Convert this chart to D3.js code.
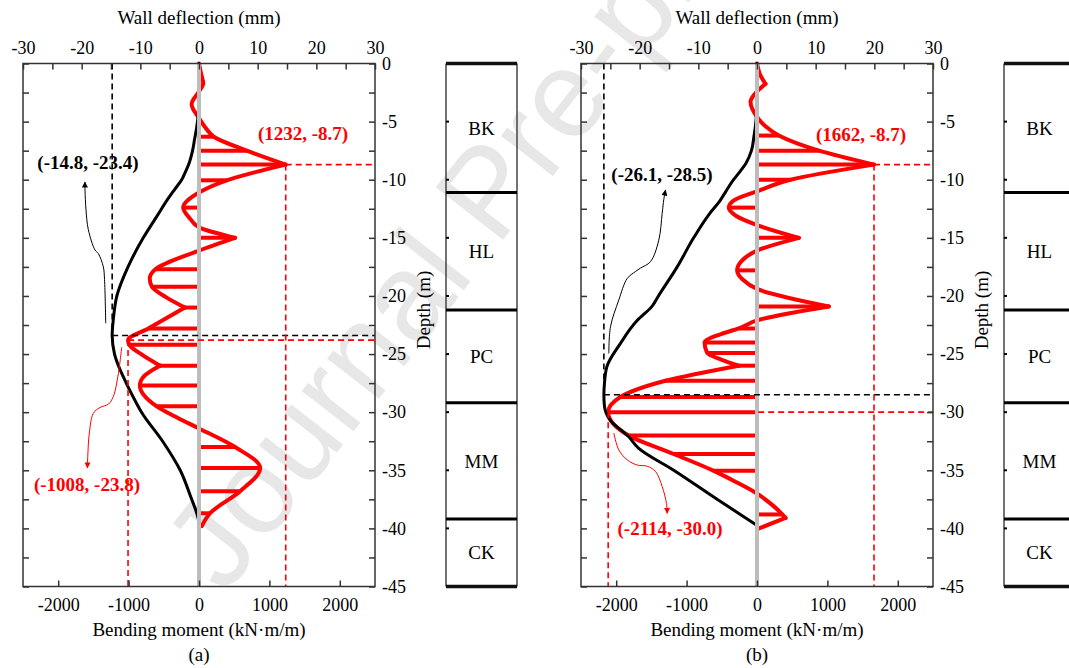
<!DOCTYPE html>
<html>
<head>
<meta charset="utf-8">
<script src="https://cdn.jsdelivr.net/npm/d3@7"></script>
<style>
  body { margin: 0; background: #fff; }
  svg { display: block; font-family: "Liberation Serif", "Times New Roman", serif; }
</style>
</head>
<body>
<svg id="chart" width="1069" height="668"></svg>
<script>
// ---------- axes ----------
const deflectionTicks = [-30, -25, -20, -15, -10, -5, 0, 5, 10, 15, 20, 25, 30];
const momentTicks = [-2000, -1000, 0, 1000, 2000];
const depthTicks = [0, -2.5, -5, -7.5, -10, -12.5, -15, -17.5, -20, -22.5, -25, -27.5,
                    -30, -32.5, -35, -37.5, -40, -42.5, -45];

// ---------- soil profile ----------
const layerNames = ["BK", "HL", "PC", "MM", "CK"];
const layerTops = [0, -11.1, -21.2, -29.2, -39.2];
const layerBottoms = [-11.1, -21.2, -29.2, -39.2, -45];

// ---------- case (a) ----------
const deflADepth = [0, -3, -4.5, -5.5, -6.5, -7.5, -8.6, -9.3, -10, -10.8, -11.8, -13, -15, -17.5, -20,
                    -22, -23.4, -25, -27.5, -29, -30, -32.5, -35, -37.5, -38.5, -39.2];
const deflAValue = [0, 0, -0.15, -0.4, -0.75, -1.1, -1.7, -2.3, -2.95, -4.1, -5.5, -7.0, -9.5, -12.1, -14.0,
                    -14.6, -14.8, -14.4, -12.4, -10.9, -9.8, -6.2, -3.2, -1.25, -0.5, -0.1];

const momentADepth = [0, -0.9, -1.7, -2.4, -3.5, -4.7, -5.5, -6.3, -7.5, -8.7, -10.05, -11.1, -12.4,
                      -13.4, -14.1, -15.0, -16.1, -17.7, -18.5, -19.2, -20.1, -21.0, -22.8, -23.8,
                      -24.2, -25.1, -26.0, -26.9, -27.7, -29.5, -30.5, -31.4, -33.0, -34.8, -36.8,
                      -38.7, -39.8];
const momentAValue = [0, 30, 60, 0, -105, 0, 90, 210, 680, 1232, 395, 0, -225,
                      -120, 0, 512, 0, -620, -700, -670, -470, -200, -720, -1008,
                      -990, -800, -555, -780, -840, -600, -300, 0, 512, 868, 584,
                      157, 40];
const momentACusps = [-8.7, -15.0, -21.0, -26.0];
const hatchADepth = [-6.3, -7.5, -8.7, -10.05, -12.4, -15.0, -17.7, -19.2, -21.0, -22.8, -24.2,
                     -26.0, -27.7, -29.5, -33.0, -34.8, -36.8, -38.7];

const maxDeflA = [-14.8, -23.4];     // [mm, depth]
const maxMomentA = [1232, -8.7];     // [kN·m/m, depth]
const minMomentA = [-1008, -23.8];

// leader curves, in [moment, depth] units
const leaderDeflA = [[-1325, -22.35], [-1342, -18.6], [-1359, -17.5], [-1430, -16.35], [-1477, -16.05],
                     [-1572, -14.3], [-1605, -12.6], [-1619, -10.9], [-1620, -10.2]];
const leaderMomentA = [[-1098, -24.4], [-1146, -26.7], [-1217, -28.65], [-1285, -29.3], [-1406, -29.6],
                       [-1501, -30.1], [-1558, -31.8], [-1580, -33.8], [-1585, -34.8]];

// ---------- case (b) ----------
const deflBDepth = [0, -3, -4.5, -5.5, -6.2, -7.5, -8.6, -9.3, -10, -11, -11.8, -13, -15, -17.5,
                    -20, -20.9, -22.1, -24.1, -26.1, -27.5, -28.5, -29.5, -30.7, -32.1, -33.1,
                    -35, -37.5, -39.7];
const deflBValue = [0, 0, -0.1, -0.3, -0.5, -0.95, -1.9, -2.9, -4.0, -5.3, -6.3, -8.2, -10.8, -13.6,
                    -16.8, -17.9, -20.4, -23.3, -25.6, -26.0, -26.1, -26.0, -25.0, -21.9, -20.2,
                    -14.2, -6.8, -0.1];

const momentBDepth = [0, -0.9, -1.75, -2.4, -3.3, -4.6, -5.4, -6.2, -7.5, -8.7, -10.0, -11.0, -11.8,
                      -12.4, -13.1, -13.9, -15.0, -16.1, -17.0, -17.8, -18.6, -19.4, -20.9, -22.1,
                      -22.8, -23.3, -24.0, -24.9, -25.5, -26.0, -27.3, -28.7, -30.0, -32.0, -33.6,
                      -35.05, -36.0, -37.0, -38.0, -38.8, -39.1, -40.0];
const momentBValue = [0, 40, 120, 0, -92, 0, 120, 310, 880, 1662, 477, 0, -334,
                      -401, -300, 0, 595, 0, -220, -282, -200, 0, 1021, 0,
                      -260, -520, -745, -708, -500, -260, -1300, -1941, -2114, -1823, -1183,
                      -614, -300, 0, 220, 360, 405, 30];
const momentBCusps = [-1.75, -8.7, -15.0, -20.9, -26.0, -39.1];
const hatchBDepth = [-6.2, -7.5, -8.7, -10.0, -12.4, -15.0, -17.8, -20.9, -22.8, -24.0, -24.9,
                     -26.0, -27.3, -28.7, -30.0, -32.0, -33.6, -35.05, -38.8];

const maxDeflB = [-26.1, -28.5];
const maxMomentB = [1662, -8.7];
const minMomentB = [-2114, -30.0];

const leaderDeflB = [[-2105, -24.95], [-2081, -22.65], [-1963, -20.35], [-1844, -18.5], [-1726, -17.9],
                     [-1655, -17.6], [-1513, -17.05], [-1395, -15.2], [-1347, -12.9], [-1324, -11.7],
                     [-1300, -10.9]];
const leaderMomentB = [[-2034, -31.8], [-1963, -33.25], [-1844, -34.1], [-1702, -34.55], [-1560, -34.65],
                       [-1442, -35.1], [-1347, -36.4], [-1286, -37.85], [-1276, -38.7]];

// ---------- layout ----------
const svg = d3.select("#chart");
const PW = 352, TOP = 63.5, BOTTOM = 586.5;
const SOIL_W = 71;
const RED = "#ff0000";
const AXIS = "#333";

// watermark
svg.append("text")
  .attr("transform", "translate(520,218) rotate(-52)")
  .attr("text-anchor", "middle")
  .attr("font-family", "Liberation Sans, Arial, sans-serif")
  .attr("font-size", 124)
  .attr("fill", "#e7e7e7")
  .text("Journal Pre-proof");

const defs = svg.append("defs");
[["arrowBlack", "#000"], ["arrowRed", RED]].forEach(([id, c]) => {
  defs.append("marker")
    .attr("id", id).attr("viewBox", "0 0 10 10")
    .attr("refX", 9).attr("refY", 5)
    .attr("markerWidth", 7).attr("markerHeight", 6)
    .attr("markerUnits", "userSpaceOnUse")
    .attr("orient", "auto")
    .append("path").attr("d", "M0,0L10,5L0,10Z").attr("fill", c);
});

function zip(depths, values) { return depths.map((d, i) => [values[i], d]); }

function splitAtCusps(points, cusps) {
  const segs = [];
  let cur = [];
  points.forEach(p => {
    cur.push(p);
    if (cusps.includes(p[1]) && cur.length > 1) { segs.push(cur); cur = [p]; }
  });
  if (cur.length > 1) segs.push(cur);
  return segs;
}

function drawPanel(cfg) {
  const left = cfg.left, right = left + PW;
  const x = d3.scaleLinear().domain([-2500, 2500]).range([left, right]);
  const xd = d3.scaleLinear().domain([-30, 30]).range([left, right]);
  const y = d3.scaleLinear().domain([0, -45]).range([TOP, BOTTOM]);
  const g = svg.append("g");

  // hatching from the wall line to the moment curve
  const momentPts = zip(cfg.momentDepth, cfg.momentValue);
  g.append("g").selectAll("line").data(cfg.hatchDepth).join("line")
    .attr("x1", x(0))
    .attr("x2", d => x(cfg.momentValue[cfg.momentDepth.indexOf(d)]))
    .attr("y1", d => y(d)).attr("y2", d => y(d))
    .attr("stroke", RED).attr("stroke-width", 4);

  // bending moment
  const lineM = d3.line().x(p => x(p[0])).y(p => y(p[1])).curve(d3.curveMonotoneY);
  g.append("g").selectAll("path").data(splitAtCusps(momentPts, cfg.cusps)).join("path")
    .attr("d", lineM).attr("fill", "none").attr("stroke", RED)
    .attr("stroke-width", 4).attr("stroke-linejoin", "round").attr("stroke-linecap", "round");

  // wall deflection
  const lineD = d3.line().x(p => xd(p[0])).y(p => y(p[1])).curve(d3.curveMonotoneY);
  g.append("path").datum(zip(cfg.deflDepth, cfg.deflValue))
    .attr("d", lineD).attr("fill", "none").attr("stroke", "#000")
    .attr("stroke-width", 3).attr("stroke-linecap", "round");

  // wall axis
  g.append("line").attr("x1", x(0)).attr("x2", x(0)).attr("y1", TOP).attr("y2", BOTTOM)
    .attr("stroke", "#bdbdbd").attr("stroke-width", 4);

  // reference lines at the extremes
  const dash = (x1, y1, x2, y2, c) => g.append("line")
    .attr("x1", x1).attr("y1", y1).attr("x2", x2).attr("y2", y2)
    .attr("stroke", c).attr("stroke-width", 1.6).attr("stroke-dasharray", "6,4");
  const [dMax, dDepth] = cfg.maxDefl;
  dash(xd(dMax), TOP, xd(dMax), y(dDepth), "#000");
  dash(xd(dMax), y(dDepth), right, y(dDepth), "#000");
  const [mMax, mMaxDepth] = cfg.maxMoment;
  dash(x(mMax), y(mMaxDepth), right, y(mMaxDepth), RED);
  dash(x(mMax), y(mMaxDepth), x(mMax), BOTTOM, RED);
  const [mMin, mMinDepth] = cfg.minMoment;
  dash(x(mMin), y(mMinDepth), right, y(mMinDepth), RED);
  dash(x(mMin), y(mMinDepth), x(mMin), BOTTOM, RED);

  // leaders
  const lineL = d3.line().x(p => x(p[0])).y(p => y(p[1])).curve(d3.curveCatmullRom);
  g.append("path").datum(cfg.leaderDefl).attr("d", lineL).attr("fill", "none")
    .attr("stroke", "#000").attr("stroke-width", 1).attr("marker-end", "url(#arrowBlack)");
  g.append("path").datum(cfg.leaderMoment).attr("d", lineL).attr("fill", "none")
    .attr("stroke", RED).attr("stroke-width", 1).attr("marker-end", "url(#arrowRed)");

  // value labels
  const label = (tx, ty, txt, c) => g.append("text")
    .attr("x", tx).attr("y", ty).attr("text-anchor", "middle")
    .attr("font-size", 19).attr("font-weight", "bold").attr("fill", c).text(txt);
  label(cfg.labelPos[0][0], cfg.labelPos[0][1], `(${mMax}, ${mMaxDepth.toFixed(1)})`, RED);
  label(cfg.labelPos[1][0], cfg.labelPos[1][1], `(${dMax.toFixed(1)}, ${dDepth.toFixed(1)})`, "#000");
  label(cfg.labelPos[2][0], cfg.labelPos[2][1], `(${mMin}, ${mMinDepth.toFixed(1)})`, RED);

  // frame + axes
  const styleAxis = sel => {
    sel.select(".domain").remove();
    sel.selectAll(".tick line").attr("stroke", AXIS).attr("stroke-width", 1.5);
    sel.selectAll(".tick text").attr("font-size", 18).attr("fill", "#000")
      .attr("font-family", "Liberation Serif, Times New Roman, serif");
  };
  g.append("g").attr("transform", `translate(0,${TOP})`)
    .call(d3.axisTop(xd).tickValues(deflectionTicks).tickSize(-6).tickPadding(10)
      .tickFormat(d => d % 10 === 0 ? String(d) : ""))
    .call(styleAxis);
  g.append("g").attr("transform", `translate(0,${BOTTOM})`)
    .call(d3.axisBottom(x).tickValues(momentTicks).tickSize(-6).tickPadding(12)
      .tickFormat(d => String(d)))
    .call(styleAxis);
  g.append("g").attr("transform", `translate(${right},0)`)
    .call(d3.axisRight(y).tickValues(depthTicks).tickSize(-6).tickPadding(7)
      .tickFormat(d => d % 5 === 0 ? String(d) : ""))
    .call(styleAxis);
  g.append("g").attr("transform", `translate(${left},0)`)
    .call(d3.axisLeft(y).tickValues(depthTicks).tickSize(-6).tickFormat(() => ""))
    .call(styleAxis);
  g.append("rect").attr("x", left).attr("y", TOP).attr("width", PW).attr("height", BOTTOM - TOP)
    .attr("fill", "none").attr("stroke", AXIS).attr("stroke-width", 1.5);

  // titles
  const cx = (left + right) / 2;
  g.append("text").attr("x", cx).attr("y", 24).attr("text-anchor", "middle")
    .attr("font-size", 19).text("Wall deflection (mm)");
  g.append("text").attr("x", cx).attr("y", 636).attr("text-anchor", "middle")
    .attr("font-size", 19).text("Bending moment (kN·m/m)");
  g.append("text").attr("x", cx).attr("y", 661).attr("text-anchor", "middle")
    .attr("font-size", 19).text(cfg.tag);
  g.append("text").attr("transform", `translate(${right + 55},310) rotate(-90)`)
    .attr("text-anchor", "middle").attr("font-size", 19).text("Depth (m)");

  // soil column
  const s0 = right + 71, s1 = s0 + SOIL_W;
  const sg = svg.append("g");
  [s0, s1].forEach(sx => sg.append("line").attr("x1", sx).attr("x2", sx)
    .attr("y1", TOP).attr("y2", BOTTOM).attr("stroke", "#444").attr("stroke-width", 1.5));
  sg.selectAll("line.t").data(depthTicks.filter(d => d % 5 === 0 && d !== 0 && d !== -45))
    .join("line").attr("class", "t")
    .attr("x1", s0).attr("x2", s0 + 3).attr("y1", d => y(d)).attr("y2", d => y(d))
    .attr("stroke", "#000").attr("stroke-width", 2);
  [0, -45].forEach(d => sg.append("line").attr("x1", s0).attr("x2", s1)
    .attr("y1", y(d)).attr("y2", y(d)).attr("stroke", "#111").attr("stroke-width", 3.5));
  sg.selectAll("line.b").data(layerBottoms.slice(0, -1)).join("line").attr("class", "b")
    .attr("x1", s0).attr("x2", s1).attr("y1", d => y(d)).attr("y2", d => y(d))
    .attr("stroke", "#000").attr("stroke-width", 3);
  sg.selectAll("text").data(layerNames).join("text")
    .attr("x", (s0 + s1) / 2)
    .attr("y", (d, i) => (y(layerTops[i]) + y(layerBottoms[i])) / 2)
    .attr("dy", "0.35em").attr("text-anchor", "middle").attr("font-size", 19).text(d => d);
}

drawPanel({
  left: 23, tag: "(a)",
  deflDepth: deflADepth, deflValue: deflAValue,
  momentDepth: momentADepth, momentValue: momentAValue,
  cusps: momentACusps, hatchDepth: hatchADepth,
  maxDefl: maxDeflA, maxMoment: maxMomentA, minMoment: minMomentA,
  leaderDefl: leaderDeflA, leaderMoment: leaderMomentA,
  labelPos: [[303, 140], [88, 169], [87, 491]]
});
drawPanel({
  left: 581, tag: "(b)",
  deflDepth: deflBDepth, deflValue: deflBValue,
  momentDepth: momentBDepth, momentValue: momentBValue,
  cusps: momentBCusps, hatchDepth: hatchBDepth,
  maxDefl: maxDeflB, maxMoment: maxMomentB, minMoment: minMomentB,
  leaderDefl: leaderDeflB, leaderMoment: leaderMomentB,
  labelPos: [[861, 141], [662, 181], [670, 535]]
});
</script>
</body>
</html>
